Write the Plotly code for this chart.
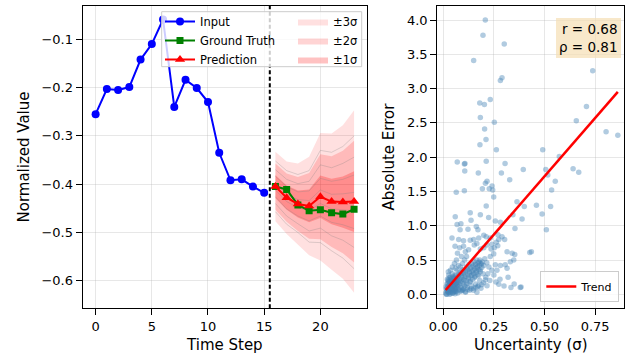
import plotly.graph_objects as go

# ---------------- data ----------------
input_steps = list(range(0, 16))
input_vals = [-0.255, -0.203, -0.205, -0.199, -0.142, -0.110, -0.059, -0.240,
              -0.184, -0.201, -0.230, -0.335, -0.392, -0.390, -0.405, -0.418]

fc_steps = list(range(16, 24))
truth_vals = [-0.405, -0.411, -0.443, -0.455, -0.453, -0.459, -0.462, -0.452]
pred_vals = [-0.405, -0.428, -0.441, -0.445, -0.426, -0.436, -0.437, -0.436]
sigma_vals = [0.024, 0.025, 0.028, 0.034, 0.044, 0.047, 0.053, 0.063]

sample_paths = [
    [-0.352, -0.372, -0.380, -0.372, -0.330, -0.334, -0.322, -0.300],
    [-0.370, -0.390, -0.399, -0.394, -0.360, -0.366, -0.357, -0.344],
    [-0.384, -0.405, -0.416, -0.414, -0.388, -0.394, -0.390, -0.381],
    [-0.398, -0.421, -0.432, -0.434, -0.412, -0.421, -0.420, -0.417],
    [-0.412, -0.436, -0.449, -0.455, -0.440, -0.451, -0.453, -0.455],
    [-0.426, -0.451, -0.466, -0.476, -0.466, -0.479, -0.484, -0.492],
    [-0.440, -0.466, -0.482, -0.497, -0.491, -0.507, -0.516, -0.531],
    [-0.457, -0.483, -0.500, -0.520, -0.521, -0.538, -0.553, -0.575],
]

band_levels = [3, 2, 1]
band_names = ["±3σ", "±2σ", "±1σ"]
band_alpha = [0.12, 0.17, 0.24]

uncertainty = [
    0.2075, 0.196, 0.301, 0.150, 0.290, 0.282, 0.738, 0.232, 0.180, 0.203, 0.707, 0.183, 0.252, 0.657,
    0.204, 0.211, 0.181, 0.804, 0.862, 0.262, 0.491, 0.573, 0.069, 0.107, 0.104, 0.212, 0.305, 0.106,
    0.173, 0.287, 0.395, 0.506, 0.641, 0.669, 0.516, 0.216, 0.208, 0.328, 0.553, 0.241, 0.227, 0.244,
    0.193, 0.064, 0.104, 0.535, 0.249, 0.530, 0.460, 0.488, 0.400, 0.364, 0.133, 0.212, 0.059, 0.087,
    0.068, 0.137, 0.183, 0.224, 0.257, 0.282, 0.389, 0.344, 0.354, 0.509, 0.083, 0.122, 0.163, 0.171,
    0.043, 0.076, 0.100, 0.133, 0.150, 0.175, 0.200, 0.212, 0.232, 0.270, 0.290, 0.274, 0.262, 0.303,
    0.315, 0.340, 0.353, 0.435, 0.427, 0.058, 0.081, 0.100, 0.109, 0.125, 0.153, 0.166, 0.183, 0.200,
    0.216, 0.236, 0.252, 0.249, 0.240, 0.269, 0.232, 0.257, 0.282, 0.306, 0.315, 0.331, 0.265, 0.348,
    0.274, 0.334, 0.384, 0.208, 0.216, 0.166,
    0.012, 0.015, 0.018, 0.020, 0.022, 0.025, 0.027, 0.030, 0.030, 0.032, 0.035, 0.036, 0.038, 0.040,
    0.042, 0.044, 0.045, 0.047, 0.050, 0.050, 0.052, 0.055, 0.057, 0.058, 0.060, 0.062, 0.063, 0.065,
    0.068, 0.070, 0.015, 0.020, 0.025, 0.028, 0.033, 0.037, 0.041, 0.046, 0.049, 0.053, 0.056, 0.061,
    0.064, 0.067, 0.018, 0.023, 0.029, 0.034, 0.039, 0.043, 0.048, 0.054, 0.059, 0.066, 0.072, 0.074,
    0.076, 0.078, 0.080, 0.082,
    0.085, 0.088, 0.090, 0.092, 0.095, 0.097, 0.100, 0.102, 0.105, 0.107, 0.110, 0.112, 0.115, 0.117,
    0.120, 0.122, 0.125, 0.127, 0.130, 0.132, 0.135, 0.137, 0.140, 0.142, 0.145, 0.147, 0.150, 0.152,
    0.155, 0.157, 0.160, 0.162, 0.165, 0.167, 0.170, 0.172, 0.175, 0.178, 0.180, 0.183, 0.186, 0.190,
    0.193, 0.196, 0.200, 0.090, 0.100, 0.110, 0.120, 0.130, 0.140, 0.150, 0.160, 0.170, 0.180, 0.190,
    0.095, 0.105, 0.115, 0.085, 0.075, 0.068, 0.060, 0.055, 0.065, 0.210, 0.220, 0.230, 0.240, 0.250,
    0.205, 0.215, 0.225, 0.260, 0.280, 0.300, 0.320, 0.350, 0.380, 0.070, 0.090, 0.045, 0.035, 0.025,
    0.014, 0.019, 0.024, 0.026, 0.031, 0.034, 0.039, 0.044, 0.048, 0.051, 0.054, 0.058, 0.061, 0.066,
    0.069, 0.073, 0.077, 0.081, 0.086, 0.091, 0.094, 0.098, 0.103, 0.108, 0.113, 0.118, 0.124, 0.128,
    0.134, 0.138, 0.143, 0.148, 0.153, 0.158, 0.163, 0.168, 0.173, 0.177, 0.182, 0.188, 0.017, 0.028,
    0.036, 0.047, 0.057, 0.071, 0.083, 0.096, 0.109, 0.121, 0.136, 0.149, 0.161, 0.174, 0.186, 0.198,
]
abs_error = [
    4.00, 3.78, 3.65, 3.41, 3.16, 3.12, 3.26, 2.84, 2.79, 2.77, 2.74, 2.58, 2.51, 2.53,
    2.41, 2.26, 2.18, 2.37, 2.32, 2.11, 2.11, 2.01, 1.93, 1.91, 1.90, 1.94, 1.91, 1.80,
    1.77, 1.77, 1.82, 1.82, 1.83, 1.78, 1.74, 1.65, 1.62, 1.67, 1.65, 1.58, 1.54, 1.52,
    1.54, 1.49, 1.51, 1.52, 1.42, 1.28, 1.30, 1.17, 1.28, 1.35, 1.19, 1.29, 1.13, 1.03,
    1.02, 1.08, 1.16, 1.12, 1.07, 1.05, 1.10, 1.16, 0.96, 0.94, 0.94, 0.95, 0.99, 0.94,
    0.82, 0.80, 0.78, 0.79, 0.80, 0.82, 0.86, 0.84, 0.82, 0.87, 0.84, 0.80, 0.76, 0.80,
    0.62, 0.60, 0.58, 0.62, 0.61, 0.70, 0.68, 0.70, 0.62, 0.65, 0.72, 0.74, 0.66, 0.68,
    0.72, 0.66, 0.68, 0.59, 0.73, 0.71, 0.55, 0.43, 0.42, 0.43, 0.38, 0.475, 0.35, 0.50,
    0.146, 0.10, 0.106, 0.21, 0.125, 0.03,
    0.02, 0.08, 0.15, 0.22, 0.05, 0.12, 0.28, 0.00, 0.18, 0.09, 0.25, 0.03, 0.14, 0.20,
    0.07, 0.30, 0.11, 0.02, 0.17, 0.24, 0.06, 0.13, 0.21, 0.01, 0.09, 0.27, 0.16, 0.04,
    0.22, 0.12, 0.00, 0.10, 0.19, 0.06, 0.13, 0.22, 0.16, 0.08, 0.26, 0.19, 0.10, 0.05,
    0.20, 0.14, 0.04, 0.16, 0.24, 0.05, 0.10, 0.18, 0.13, 0.23, 0.15, 0.09, 0.18, 0.26,
    0.07, 0.32, 0.14, 0.22,
    0.30, 0.10, 0.19, 0.27, 0.36, 0.15, 0.22, 0.31, 0.12, 0.26, 0.34, 0.20, 0.40, 0.16,
    0.28, 0.36, 0.23, 0.44, 0.31, 0.18, 0.38, 0.27, 0.45, 0.33, 0.22, 0.41, 0.30, 0.48,
    0.37, 0.26, 0.43, 0.34, 0.50, 0.39, 0.29, 0.46, 0.36, 0.42, 0.50, 0.33, 0.45, 0.39,
    0.47, 0.30, 0.42, 0.05, 0.08, 0.03, 0.10, 0.06, 0.12, 0.09, 0.15, 0.11, 0.20, 0.14,
    0.45, 0.50, 0.55, 0.40, 0.42, 0.35, 0.38, 0.45, 0.50, 0.25, 0.30, 0.20, 0.35, 0.28,
    0.52, 0.46, 0.40, 0.18, 0.22, 0.12, 0.25, 0.15, 0.10, 0.60, 0.55, 0.40, 0.35, 0.33,
    0.11, 0.06, 0.21, 0.03, 0.14, 0.19, 0.08, 0.23, 0.12, 0.04, 0.18, 0.28, 0.07, 0.16,
    0.24, 0.11, 0.20, 0.29, 0.17, 0.25, 0.07, 0.33, 0.21, 0.29, 0.14, 0.37, 0.25, 0.33,
    0.19, 0.40, 0.28, 0.35, 0.24, 0.44, 0.32, 0.40, 0.27, 0.47, 0.36, 0.44, 0.00, 0.03,
    0.01, 0.02, 0.04, 0.02, 0.05, 0.06, 0.04, 0.07, 0.08, 0.06, 0.10, 0.13, 0.09, 0.17,
]
trend_slope = 3.40
trend_intercept = 0.022
corr_text = ["r = 0.68", "ρ = 0.81"]

left_xticks = [0, 5, 10, 15, 20]
left_yticks = [-0.6, -0.5, -0.4, -0.3, -0.2, -0.1]
left_yticklabels = ["−0.6", "−0.5", "−0.4", "−0.3", "−0.2", "−0.1"]
right_xticks = [0.0, 0.25, 0.5, 0.75]
right_xticklabels = ["0.00", "0.25", "0.50", "0.75"]
right_yticks = [0.0, 0.5, 1.0, 1.5, 2.0, 2.5, 3.0, 3.5, 4.0]
right_yticklabels = ["0.0", "0.5", "1.0", "1.5", "2.0", "2.5", "3.0", "3.5", "4.0"]
split_step = 15.5

# ---------------- figure ----------------
W, H = 629, 362
FONT = "DejaVu Sans"
fig = go.Figure()

# uncertainty bands
for lvl, name, a in zip(band_levels, band_names, band_alpha):
    upper = [p + lvl * s for p, s in zip(pred_vals, sigma_vals)]
    lower = [p - lvl * s for p, s in zip(pred_vals, sigma_vals)]
    fig.add_trace(go.Scatter(
        x=fc_steps + fc_steps[::-1], y=upper + lower[::-1],
        fill="toself", fillcolor=f"rgba(255,0,0,{a})", line=dict(width=0),
        mode="lines", name=name, legend="legend2", hoverinfo="skip",
        xaxis="x", yaxis="y"))

# sample trajectories
for path in sample_paths:
    fig.add_trace(go.Scatter(
        x=fc_steps, y=path, mode="lines", line=dict(color="rgba(128,128,128,0.35)", width=0.8),
        showlegend=False, hoverinfo="skip", xaxis="x", yaxis="y"))

fig.add_trace(go.Scatter(
    x=input_steps, y=input_vals, mode="lines+markers", name="Input",
    line=dict(color="#0000ff", width=2), marker=dict(symbol="circle", size=8, color="#0000ff"),
    legend="legend", xaxis="x", yaxis="y"))
fig.add_trace(go.Scatter(
    x=fc_steps, y=truth_vals, mode="lines+markers", name="Ground Truth",
    line=dict(color="#008000", width=2), marker=dict(symbol="square", size=7, color="#008000"),
    legend="legend", xaxis="x", yaxis="y"))
fig.add_trace(go.Scatter(
    x=fc_steps, y=pred_vals, mode="lines+markers", name="Prediction",
    line=dict(color="#ff0000", width=2), marker=dict(symbol="triangle-up", size=9, color="#ff0000"),
    legend="legend", xaxis="x", yaxis="y"))

# right panel
fig.add_trace(go.Scatter(
    x=uncertainty, y=abs_error, mode="markers", showlegend=False,
    marker=dict(color="rgba(70,130,180,0.42)", size=5.5, line=dict(width=0)),
    xaxis="x2", yaxis="y2"))
tx = [min(uncertainty), max(uncertainty)]
ty = [trend_intercept + trend_slope * v for v in tx]
fig.add_trace(go.Scatter(
    x=tx, y=ty, mode="lines", name="Trend", line=dict(color="#ff0000", width=2.5),
    legend="legend3", xaxis="x2", yaxis="y2"))

axis_common = dict(
    showline=True, linecolor="black", linewidth=1.2, mirror=True, automargin=False,
    ticks="outside", ticklen=6, tickwidth=1.2, tickcolor="black",
    showgrid=True, gridcolor="rgba(176,176,176,0.3)", gridwidth=1, zeroline=False,
    tickfont=dict(family=FONT, size=13, color="black"),
)
title_font = dict(family=FONT, size=15, color="black")

y_top = 1 - 5.7 / H
y_bot = 1 - 308.3 / H

fig.update_layout(
    width=W, height=H, margin=dict(l=0, r=0, t=0, b=0, autoexpand=False),
    paper_bgcolor="white", plot_bgcolor="white",
    font=dict(family=FONT, color="black"),
    xaxis=dict(domain=[82.7 / W, 367 / W], range=[-1.15, 24.15], tickvals=left_xticks,
               title=dict(text="Time Step", font=title_font, standoff=6), anchor="y", **axis_common),
    yaxis=dict(domain=[y_bot, y_top], range=[-0.657, -0.0305], tickvals=left_yticks,
               ticktext=left_yticklabels,
               title=dict(text="Normalized Value", font=title_font, standoff=8), anchor="x", **axis_common),
    xaxis2=dict(domain=[437.3 / W, 624.3 / W], range=[-0.0296, 0.894], tickvals=right_xticks,
                ticktext=right_xticklabels,
                title=dict(text="Uncertainty (σ)", font=title_font, standoff=6), anchor="y2", **axis_common),
    yaxis2=dict(domain=[y_bot, y_top], range=[-0.204, 4.21], tickvals=right_yticks,
                ticktext=right_yticklabels,
                title=dict(text="Absolute Error", font=title_font, standoff=8), anchor="x2", **axis_common),
    legend=dict(x=160 / W, y=1 - 7 / H, xanchor="left", yanchor="top",
                bgcolor="rgba(0,0,0,0)", borderwidth=0, font=dict(family=FONT, size=11.5, color="black"),
                itemwidth=30, tracegroupgap=0),
    legend2=dict(x=293 / W, y=1 - 7 / H, xanchor="left", yanchor="top",
                 bgcolor="rgba(0,0,0,0)", borderwidth=0, font=dict(family=FONT, size=11.5, color="black"),
                 itemwidth=30, tracegroupgap=0),
    legend3=dict(x=619.3 / W, y=1 - 302 / H, xanchor="right", yanchor="bottom",
                 bgcolor="rgba(255,255,255,0.8)", bordercolor="#cccccc", borderwidth=1,
                 font=dict(family=FONT, size=11, color="black"), itemwidth=30),
    showlegend=True,
)

# forecast split line and legend frame
fig.add_shape(type="line", x0=split_step, x1=split_step, y0=0, y1=1, xref="x", yref="y domain",
              line=dict(color="black", width=2, dash="4px,2.5px"), layer="above")
fig.add_shape(type="rect", x0=161.7 / W, x1=361.7 / W, y0=1 - 66.7 / H, y1=1 - 11.7 / H,
              xref="paper", yref="paper", fillcolor="rgba(255,255,255,0.8)",
              line=dict(color="#cccccc", width=1), layer="above")

fig.add_annotation(
    x=621 / W, y=1 - 17.7 / H, xref="paper", yref="paper", xanchor="right", yanchor="top",
    text="<br>".join(corr_text), showarrow=False, align="right",
    font=dict(family=FONT, size=13.5, color="black"),
    bgcolor="rgba(245,222,179,0.7)", borderpad=3, borderwidth=0)

fig.write_html("out.html")
